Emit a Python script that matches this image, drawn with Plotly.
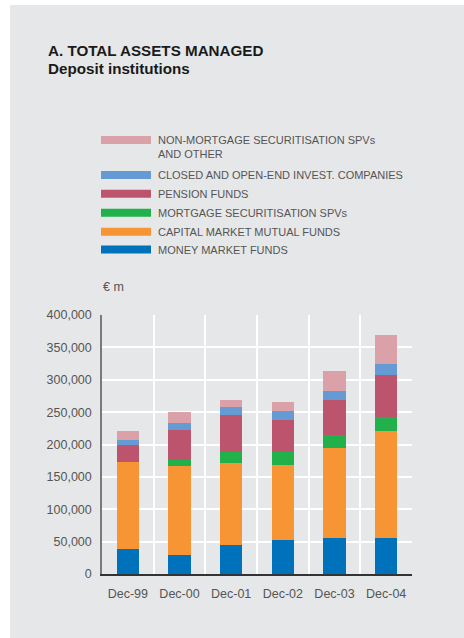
import plotly.graph_objects as go

# Total assets managed by deposit institutions (EUR millions)
periods = ["Dec-99", "Dec-00", "Dec-01", "Dec-02", "Dec-03", "Dec-04"]

money_market = [39000, 29000, 45000, 53000, 55000, 55000]
capital_market = [134000, 138000, 127000, 115000, 139000, 166000]
mortgage_spv = [0, 9000, 17000, 21000, 20000, 21000]
pension_funds = [27000, 46000, 56000, 49000, 54000, 66000]
invest_companies = [7000, 11000, 13000, 13000, 15000, 17000]
non_mortgage_other = [14000, 17000, 11000, 14000, 31000, 44000]

series_names = [
    "MONEY MARKET FUNDS",
    "CAPITAL MARKET MUTUAL FUNDS",
    "MORTGAGE SECURITISATION SPVs",
    "PENSION FUNDS",
    "CLOSED AND OPEN-END INVEST. COMPANIES",
    "NON-MORTGAGE SECURITISATION SPVs<br>AND OTHER",
]
series_values = [money_market, capital_market, mortgage_spv,
                 pension_funds, invest_companies, non_mortgage_other]
series_colors = ["#0072bb", "#f79535", "#22b04b", "#bc546e", "#659bd2", "#dba1a8"]

y_ticks = [0, 50000, 100000, 150000, 200000, 250000, 300000, 350000, 400000]
y_tick_text = ["0", "50,000", "100,000", "150,000", "200,000",
               "250,000", "300,000", "350,000", "400,000"]

W, H = 464, 638
L, R, T, B = 102, 52, 315, 64
PW, PH = W - L - R, H - T - B
BG = "#e6e7e8"
TXT = "#555555"
FONT = "Liberation Sans, Arial, sans-serif"


def px_x(px):
    return (px - L) / PW


def px_y(py):
    return (H - B - py) / PH


def label(text, x, y, size, color=TXT, xanchor="left", yanchor="middle"):
    return dict(text=text, xref="paper", yref="paper", x=px_x(x), y=px_y(y),
                xanchor=xanchor, yanchor=yanchor, showarrow=False, align="left",
                font=dict(size=size, color=color, family=FONT))


fig = go.Figure()
for name, vals, col in zip(series_names, series_values, series_colors):
    fig.add_trace(go.Bar(x=periods, y=vals, name=name.replace("<br>", " "),
                         marker=dict(color=col, line=dict(width=0))))

shapes = [
    # white outer border on the left and top of the panel
    dict(type="rect", xref="paper", yref="paper", x0=px_x(0), x1=px_x(10),
         y0=px_y(H), y1=px_y(0), fillcolor="white", line=dict(width=0)),
    dict(type="rect", xref="paper", yref="paper", x0=px_x(0), x1=px_x(W),
         y0=px_y(5), y1=px_y(0), fillcolor="white", line=dict(width=0)),
]
annotations = [
    label("<b>A. TOTAL ASSETS MANAGED</b>", 46, 50, 15.2, "#1a1a1a"),
    label("<b>Deposit institutions</b>", 46, 69, 15.2, "#1a1a1a"),
    label("€ m", 101, 287, 12.5),
]

# custom legend, top entry = last series
legend_rows = [249.5, 231.7, 212.7, 193.7, 175, 140]
for name, col, yc in zip(series_names, series_colors, legend_rows):
    shapes.append(dict(type="rect", xref="paper", yref="paper",
                       x0=px_x(101), x1=px_x(151), y0=px_y(yc + 4), y1=px_y(yc - 4),
                       fillcolor=col, line=dict(width=0)))
    annotations.append(label(name, 156, yc - 8, 11, yanchor="top"))

fig.update_layout(
    width=W, height=H,
    margin=dict(l=L, r=R, t=T, b=B, pad=0),
    paper_bgcolor=BG, plot_bgcolor=BG,
    barmode="stack", bargap=0.57,
    showlegend=False,
    shapes=shapes, annotations=annotations,
    font=dict(family=FONT, color=TXT, size=12.5),
    xaxis=dict(type="category", tickson="boundaries", showgrid=True,
               gridcolor="white", gridwidth=2, showline=True,
               linecolor="#333333", linewidth=1.5, ticks="", ticklabelstandoff=7,
               tickfont=dict(size=12.5, color=TXT), fixedrange=True),
    yaxis=dict(range=[0, 400000], tickvals=y_ticks, ticktext=y_tick_text,
               showgrid=True, gridcolor="white", gridwidth=2, zeroline=False,
               showline=True, linecolor="#7a7a7a", linewidth=1.5, ticks="",
               ticklabelstandoff=6, tickfont=dict(size=12.5, color=TXT),
               fixedrange=True),
)

fig.write_html("out.html")
